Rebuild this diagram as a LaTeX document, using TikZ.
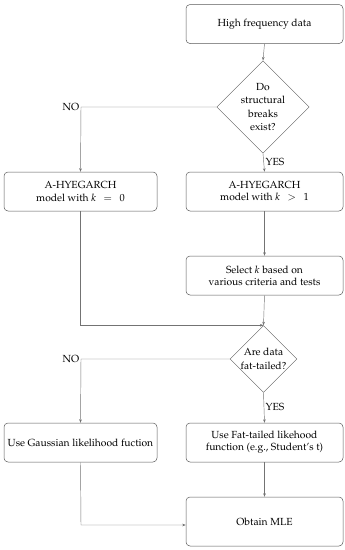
\documentclass[tikz,border=0pt]{standalone}
\usepackage[T1]{fontenc}
\usepackage{mathpazo}
\usetikzlibrary{shapes.geometric,arrows.meta}
\begin{document}
\begin{tikzpicture}[x=1pt,y=-1pt,
  box/.style={draw=black!65,line width=0.5pt,rounded corners=4pt,align=center,font=\fontsize{10.3}{12.2}\selectfont,inner sep=2pt},
  dec/.style={draw=black!65,line width=0.5pt,shape=diamond,inner sep=0pt,align=center,font=\fontsize{10.3}{13.6}\selectfont},
  conn/.style={draw=black!55,line width=0.45pt,-{Stealth[length=3.5pt,width=2.6pt]}},
  lbl/.style={font=\fontsize{10.3}{12}\selectfont,inner sep=1.5pt}]
\useasboundingbox (0,0) rectangle (345,550);
\node[box,minimum width=157pt,minimum height=39pt] (top) at (264.5,24) {High frequency data};
\node[dec,minimum width=87pt,minimum height=85pt] (d1) at (263,107) {Do\\structural\\breaks\\exist?};
\node[box,minimum width=153pt,minimum height=39pt] (k0) at (80.5,191.5) {A-HYEGARCH\\model with $k\;\,=\;\,0$};
\node[box,minimum width=157pt,minimum height=39pt] (k1) at (264.5,191.5) {A-HYEGARCH\\model with $k\;\,>\;\,1$};
\node[box,minimum width=157pt,minimum height=39pt] (sel) at (264.5,275.5) {Select $k$ based on\\various criteria and tests};
\node[dec,minimum width=63pt,minimum height=63pt] (d2) at (263.5,359) {Are data\\fat-tailed?};
\node[box,minimum width=153pt,minimum height=39pt] (gau) at (80.5,442.5) {Use Gaussian likelihood fuction};
\node[box,minimum width=157pt,minimum height=39pt] (fat) at (264.5,442.5) {Use Fat-tailed likehood\\function (e.g., Student's t)};
\node[box,minimum width=157pt,minimum height=49pt] (mle) at (264.5,521.5) {Obtain MLE};
\coordinate (c1) at (81,107);
\coordinate (c2) at (81,359);
\coordinate (c3) at (81,525);
\draw[conn] (top.south) -- (d1.north);
\draw[conn] (d1.west) -- (c1) -- (k0.north);
\node[lbl,anchor=east] (no1) at (c1) {NO};
\draw[conn] (d1.south) -- (k1.north);
\node[lbl,anchor=west] (yes1) at (264,162) {YES};
\draw[conn] (k1.south) -- (sel.north);
\draw[conn] (k0.south) |- (d2.north);
\draw[conn] (sel.south) -- (d2.north);
\draw[conn] (d2.west) -- (c2) -- (gau.north);
\node[lbl,anchor=east] (no2) at (c2) {NO};
\draw[conn] (d2.south) -- (fat.north);
\node[lbl,anchor=west] (yes2) at (264,407) {YES};
\draw[conn] (gau.south) -- (c3) -- (mle.west |- c3);
\draw[conn] (fat.south) -- (mle.north);
\end{tikzpicture}
\end{document}
